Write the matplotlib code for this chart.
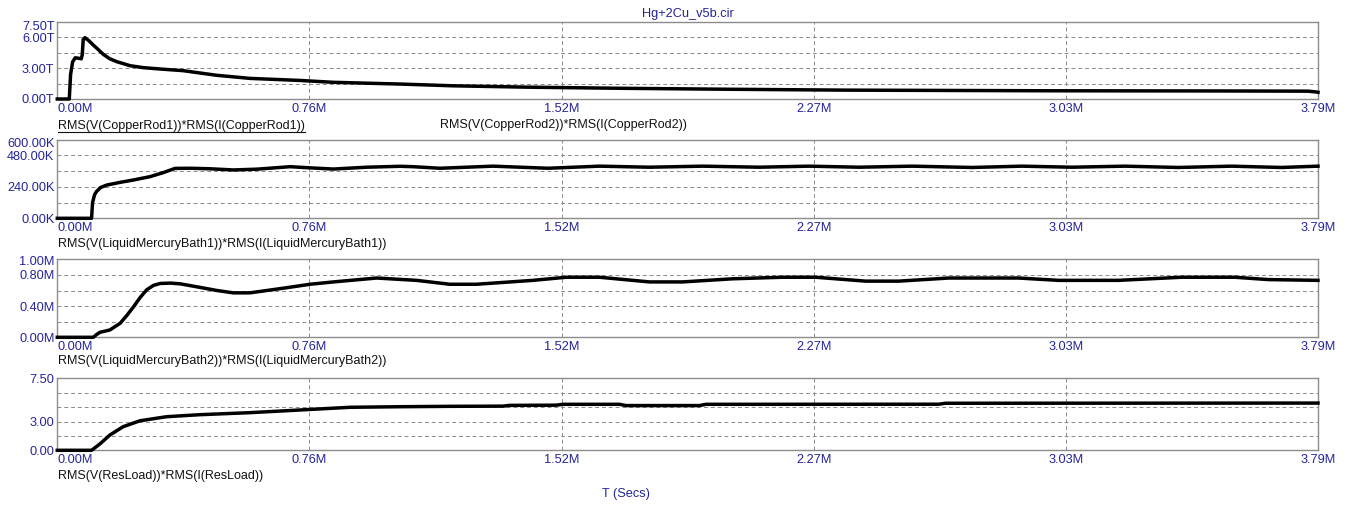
import matplotlib
matplotlib.use("Agg")
import matplotlib.pyplot as plt
from matplotlib.transforms import ScaledTranslation
from matplotlib.lines import Line2D

plt.rcParams['font.family'] = ['Liberation Sans', 'DejaVu Sans']

# ---------------- data (time in M seconds) ----------------
x_max = 3.79
x_ticks = [0.0, 0.758, 1.516, 2.274, 3.032, 3.79]
x_labels = ['0.00M', '0.76M', '1.52M', '2.27M', '3.03M', '3.79M']

# Panel 1: RMS(V(CopperRod1))*RMS(I(CopperRod1))  [T]
p1_t = [0, 0.036, 0.040, 0.046, 0.054, 0.064, 0.072, 0.075, 0.078, 0.083, 0.095,
        0.108, 0.123, 0.138, 0.158, 0.179, 0.219, 0.259, 0.309, 0.378, 0.479,
        0.579, 0.73, 0.829, 1.03, 1.19, 1.41, 1.69, 2.0, 2.37, 2.96, 3.2, 3.5,
        3.76, 3.785, 3.79]
p1_v = [0, 0, 2.4, 3.6, 4.0, 3.95, 3.9, 4.3, 5.8, 5.95, 5.65,
        5.24, 4.8, 4.34, 3.9, 3.62, 3.23, 3.04, 2.91, 2.75, 2.3,
        2.0, 1.8, 1.62, 1.45, 1.28, 1.15, 1.04, 0.95, 0.86, 0.8, 0.79, 0.78,
        0.76, 0.68, 0.65]

# Panel 2: RMS(V(LiquidMercuryBath1))*RMS(I(LiquidMercuryBath1))  [K]
p2_t = [0, 0.103, 0.106, 0.112, 0.118, 0.13, 0.149, 0.19, 0.228, 0.279, 0.32,
        0.354, 0.40, 0.46, 0.529, 0.60, 0.70, 0.76, 0.83, 0.93, 1.03, 1.07,
        1.15, 1.31, 1.475, 1.63, 1.78, 1.94, 2.11, 2.26, 2.41, 2.57, 2.75,
        2.90, 3.05, 3.21, 3.37, 3.53, 3.68, 3.79]
p2_v = [0, 0, 120, 180, 205, 235, 254, 275, 292, 318, 350,
        381, 382, 378, 369, 375, 394, 385, 376, 390, 397, 394,
        382, 398, 382, 398, 390, 398, 390, 398, 390, 398, 388,
        398, 390, 398, 388, 398, 388, 398]

# Panel 3: RMS(V(LiquidMercuryBath2))*RMS(I(LiquidMercuryBath2))  [M]
p3_t = [0, 0.108, 0.118, 0.128, 0.158, 0.189, 0.209, 0.229, 0.249, 0.269, 0.289,
        0.309, 0.34, 0.37, 0.429, 0.48, 0.529, 0.579, 0.63, 0.68, 0.76, 0.83,
        0.96, 1.08, 1.18, 1.26, 1.43, 1.53, 1.63, 1.78, 1.88, 2.03, 2.18, 2.28,
        2.43, 2.53, 2.68, 2.89, 3.01, 3.19, 3.38, 3.54, 3.64, 3.79]
p3_v = [0, 0, 0.035, 0.064, 0.094, 0.18, 0.28, 0.39, 0.51, 0.61, 0.665,
        0.69, 0.695, 0.685, 0.64, 0.60, 0.57, 0.57, 0.60, 0.63, 0.68, 0.71,
        0.76, 0.73, 0.68, 0.68, 0.73, 0.77, 0.77, 0.71, 0.71, 0.75, 0.77, 0.77,
        0.72, 0.72, 0.76, 0.76, 0.73, 0.73, 0.77, 0.77, 0.74, 0.73]

# Panel 4: RMS(V(ResLoad))*RMS(I(ResLoad))
p4_t = [0, 0.103, 0.128, 0.158, 0.198, 0.249, 0.329, 0.429, 0.579, 0.73, 0.88,
        1.03, 1.18, 1.34, 1.36, 1.50, 1.52, 1.69, 1.71, 1.93, 1.95, 2.65, 2.67,
        3.79]
p4_v = [0, 0, 0.66, 1.59, 2.46, 3.08, 3.5, 3.71, 3.92, 4.2, 4.48,
        4.54, 4.58, 4.6, 4.68, 4.7, 4.79, 4.79, 4.66, 4.66, 4.79, 4.8, 4.9,
        4.92]

panels = [
    dict(t=p1_t, v=p1_v, top=21.7, bottom=99.0, ymax=7.5,
         yticks=[0, 1.5, 3, 4.5, 6, 7.5],
         ylabels=['0.00T', '', '3.00T', '', '6.00T', '7.50T'], topoff=4),
    dict(t=p2_t, v=p2_v, top=139.7, bottom=218.3, ymax=600,
         yticks=[0, 120, 240, 360, 480, 600],
         ylabels=['0.00K', '', '240.00K', '', '480.00K', '600.00K'], topoff=3),
    dict(t=p3_t, v=p3_v, top=259.3, bottom=337.3, ymax=1.0,
         yticks=[0, 0.2, 0.4, 0.6, 0.8, 1.0],
         ylabels=['0.00M', '', '0.40M', '', '0.80M', '1.00M'], topoff=1),
    dict(t=p4_t, v=p4_v, top=378.3, bottom=450.3, ymax=7.5,
         yticks=[0, 1.5, 3, 4.5, 6, 7.5],
         ylabels=['0.00', '', '3.00', '', '', '7.50'], topoff=0),
]

W, H = 1353, 513
LEFT, RIGHT = 57.3, 1318.0
BLUE = '#24249a'
GRID = '#8a8a8a'
SPINE = '#8c8c8c'
TICK_FS = 9.2

fig = plt.figure(figsize=(W / 100, H / 100), dpi=100)

for p in panels:
    ax = fig.add_axes([LEFT / W, 1 - p['bottom'] / H, (RIGHT - LEFT) / W,
                       (p['bottom'] - p['top']) / H])
    ax.set_xlim(0, x_max)
    ax.set_ylim(0, p['ymax'])
    ax.set_xticks(x_ticks, x_labels)
    ax.set_yticks(p['yticks'], p['ylabels'])
    ax.tick_params(length=0, labelsize=TICK_FS, labelcolor=BLUE)
    ax.tick_params(axis='x', pad=3.0)
    ax.tick_params(axis='y', pad=2)
    xl = ax.get_xticklabels()
    xl[0].set_horizontalalignment('left')
    yl = ax.get_yticklabels()
    if p['topoff']:
        yl[-1].set_transform(yl[-1].get_transform() +
                             ScaledTranslation(0, -p['topoff'] / 100, fig.dpi_scale_trans))
    ax.grid(True, color=GRID, linewidth=0.7, linestyle=(0, (4, 3)))
    for s in ax.spines.values():
        s.set_color(SPINE)
        s.set_linewidth(1.0)
    ax.plot(p['t'], p['v'], color='black', linewidth=2.5, clip_on=False,
            solid_joinstyle='round', zorder=3)

def ftext(x, y, s, **kw):
    return fig.text(x / W, 1 - y / H, s, **kw)

ftext(688, 14, 'Hg+2Cu_v5b.cir', ha='center', va='center', fontsize=9.2, color=BLUE)
t1 = ftext(58, 126, 'RMS(V(CopperRod1))*RMS(I(CopperRod1))', ha='left', va='center',
           fontsize=9, color='#111111')
ftext(440, 125, 'RMS(V(CopperRod2))*RMS(I(CopperRod2))', ha='left', va='center',
      fontsize=9, color='#111111')
ftext(58, 243.5, 'RMS(V(LiquidMercuryBath1))*RMS(I(LiquidMercuryBath1))', ha='left',
      va='center', fontsize=9, color='#111111')
ftext(58, 361, 'RMS(V(LiquidMercuryBath2))*RMS(I(LiquidMercuryBath2))', ha='left',
      va='center', fontsize=9, color='#111111')
ftext(58, 476, 'RMS(V(ResLoad))*RMS(I(ResLoad))', ha='left', va='center',
      fontsize=9, color='#111111')
ftext(626, 494, 'T (Secs)', ha='center', va='center', fontsize=9.2, color=BLUE)

# underline the first trace label
fig.canvas.draw()
bb = t1.get_window_extent()
uy = bb.y0 + 0.5
fig.add_artist(Line2D([bb.x0 / W, bb.x1 / W], [uy / H, uy / H], color='#111111',
                      linewidth=0.8, transform=fig.transFigure))

fig.savefig('out.png', dpi=100)
